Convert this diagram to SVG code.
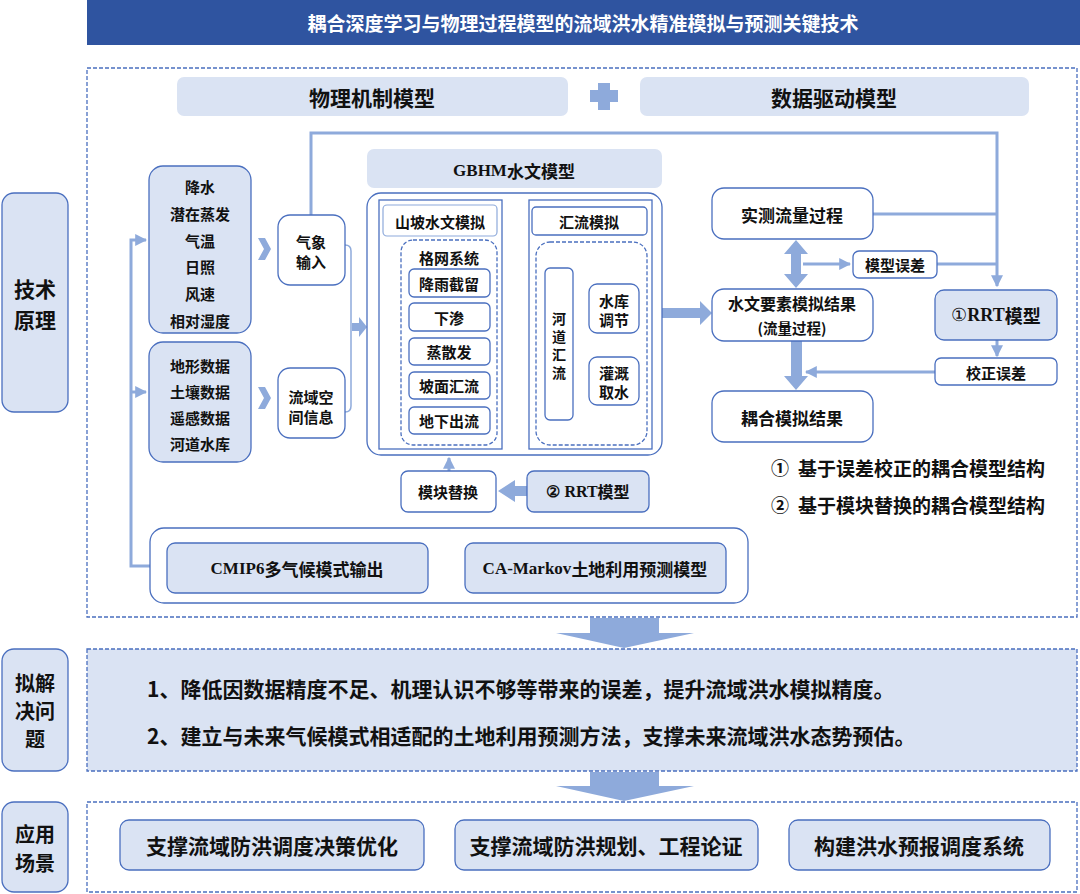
<svg xmlns="http://www.w3.org/2000/svg" width="1080" height="894" viewBox="0 0 1080 894">
<defs>
<style>
.lf{fill:#DAE3F3;stroke:#4A6FBF;stroke-width:1.3}
.wf{fill:#FFFFFF;stroke:#4A6FBF;stroke-width:1.3}
.hd{fill:#DAE3F3;stroke:none}
.dash{fill:none;stroke:#4A6FBF;stroke-width:1.3;stroke-dasharray:4 2}
.ln{fill:none;stroke:#8EAADB;stroke-width:3}
.dl{fill:none;stroke:#3A5DA8;stroke-width:1.2}
.ba{fill:#8EAADB;stroke:none}
.t{font-family:"Noto Sans CJK SC","Noto Sans",sans-serif;font-weight:bold;fill:#111;text-anchor:middle;dominant-baseline:central}
.s{font-family:"Liberation Serif",serif;font-weight:bold}
</style>
<marker id="ah" viewBox="0 0 10 10" refX="9" refY="5" markerWidth="4" markerHeight="4" orient="auto"><path d="M0,0 L10,5 L0,10 z" fill="#8EAADB"/></marker>
<marker id="ahd" viewBox="0 0 10 10" refX="9" refY="5" markerWidth="7" markerHeight="7" markerUnits="userSpaceOnUse" orient="auto"><path d="M0,1 L10,5 L0,9 z" fill="#3A5DA8"/></marker>
</defs>
<rect width="1080" height="894" fill="#FFFFFF"/>

<g id="title">
<rect x="87" y="0" width="993" height="45" fill="#2F54A0"/>
<text class="t" x="583" y="22" style="fill:#FFFFFF;font-size:19px">耦合深度学习与物理过程模型的流域洪水精准模拟与预测关键技术</text>
</g>

<g id="main-frame">
<rect class="dash" x="87" y="68" width="990" height="549"/>
</g>

<g id="header-physical">
<rect class="hd" x="177" y="77" width="391" height="39" rx="7"/>
<text class="t" x="372" y="97" style="font-size:21px">物理机制模型</text>
</g>
<g id="plus">
<rect x="598" y="83" width="12" height="27" fill="#8EAADB"/>
<rect x="590" y="90" width="28" height="12" fill="#8EAADB"/>
</g>
<g id="header-data">
<rect class="hd" x="640" y="77" width="389" height="39" rx="7"/>
<text class="t" x="834" y="97" style="font-size:21px">数据驱动模型</text>
</g>

<g id="label-tech">
<rect class="lf" x="2" y="193" width="66" height="219" rx="12"/>
<text class="t" x="35" y="288" style="font-size:21px">技术</text>
<text class="t" x="35" y="319" style="font-size:21px">原理</text>
</g>
<g id="label-problem">
<rect class="lf" x="2" y="649" width="66" height="122" rx="12"/>
<text class="t" style="font-size:20px"><tspan x="35" y="682">拟解</tspan><tspan x="35" y="710">决问</tspan><tspan x="35" y="738">题</tspan></text>
</g>
<g id="label-app">
<rect class="lf" x="2" y="802" width="66" height="90" rx="12"/>
<text class="t" style="font-size:20px"><tspan x="35" y="833">应用</tspan><tspan x="35" y="862">场景</tspan></text>
</g>

<g id="connectors">
<path class="ln" d="M150,566 H131 V240 H146" marker-end="url(#ah)"/>
<path class="ln" d="M131,392 H146" marker-end="url(#ah)"/>
<polygon class="ba" points="258,238 265,238 271,249 265,260 258,260 264,249"/>
<polygon class="ba" points="258,387 265,387 271,398 265,409 258,409 264,398"/>
<path d="M345,245 Q351,245 351,251 V406 Q351,412 345,412" fill="none" stroke="#8EAADB" stroke-width="1.5"/>
<polygon class="ba" points="352,323 359,323 359,317 367,327 359,337 359,331 352,331"/>
<path class="ln" d="M311,215 V133 H997 V286" marker-end="url(#ah)"/>
<path class="ln" d="M873,214 H997"/>
<path class="ln" d="M937,264 H997"/>
<path class="ln" d="M803,264 H850" marker-end="url(#ah)"/>
<path class="ln" d="M997,340 V356" marker-end="url(#ah)"/>
<path class="ln" d="M935,372 H806" marker-end="url(#ah)"/>
<polygon class="ba" points="796,240 808,254 801,254 801,274 808,274 796,288 784,274 791,274 791,254 784,254"/>
<polygon class="ba" points="791,341 802,341 802,376 808,376 796,390 784,376 791,376"/>
<polygon class="ba" points="662,308 700,308 700,301 712,313 700,325 700,318 662,318"/>
<polygon class="ba" points="503,337 511,331 511,334 519,334 519,331 527,337 519,343 519,340 511,340 511,343"/>
<polygon class="ba" points="527,486 515,486 515,480 498,491 515,502 515,496 527,496"/>
<path class="ln" d="M449,471 V458" marker-end="url(#ah)"/>
<path class="dl" d="M392,236 V420"/>
<path class="dl" d="M392,283 H408" marker-end="url(#ahd)"/>
<path class="dl" d="M392,317 H408" marker-end="url(#ahd)"/>
<path class="dl" d="M392,351 H408" marker-end="url(#ahd)"/>
<path class="dl" d="M392,385 H408" marker-end="url(#ahd)"/>
<path class="dl" d="M392,420 H408" marker-end="url(#ahd)"/>
<path d="M559,235 V268" fill="none" stroke="#4A6FBF" stroke-width="1.2"/>
<polygon class="ba" points="590,618 659,618 659,633 694,633 624,648 556,633 590,633"/>
<polygon class="ba" points="590,772 659,772 659,786 694,786 624,801 556,786 590,786"/>
</g>

<g id="data-met">
<rect class="lf" x="149" y="166" width="102" height="167" rx="14"/>
<text class="t" x="200" y="186" style="font-size:15px">降水</text>
<text class="t" x="200" y="213" style="font-size:15px">潜在蒸发</text>
<text class="t" x="200" y="240" style="font-size:15px">气温</text>
<text class="t" x="200" y="266" style="font-size:15px">日照</text>
<text class="t" x="200" y="293" style="font-size:15px">风速</text>
<text class="t" x="200" y="320" style="font-size:15px">相对湿度</text>
</g>
<g id="data-geo">
<rect class="lf" x="149" y="342" width="102" height="120" rx="14"/>
<text class="t" x="200" y="365" style="font-size:15px">地形数据</text>
<text class="t" x="200" y="391" style="font-size:15px">土壤数据</text>
<text class="t" x="200" y="417" style="font-size:15px">遥感数据</text>
<text class="t" x="200" y="443" style="font-size:15px">河道水库</text>
</g>
<g id="met-input">
<rect class="wf" x="278" y="215" width="67" height="70" rx="12"/>
<text class="t" style="font-size:15px"><tspan x="311" y="241">气象</tspan><tspan x="311" y="261">输入</tspan></text>
</g>
<g id="spatial-info">
<rect class="wf" x="278" y="368" width="67" height="70" rx="12"/>
<text class="t" style="font-size:15px"><tspan x="311" y="396">流域空</tspan><tspan x="311" y="416">间信息</tspan></text>
</g>

<g id="gbhm">
<rect class="hd" x="367" y="149" width="295" height="39" rx="7"/>
<text class="t" x="514" y="170" style="font-size:17px"><tspan class="s">GBHM</tspan>水文模型</text>
<rect class="wf" x="367" y="193" width="295" height="262" rx="14"/>
</g>
<g id="slope">
<rect x="379" y="200" width="123" height="249" fill="none" stroke="#4A6FBF" stroke-width="1.3"/>
<rect x="383" y="205" width="114" height="31" rx="4" fill="#FFFFFF" stroke="#8EAADB" stroke-width="1.2"/>
<text class="t" x="440" y="221" style="font-size:15px">山坡水文模拟</text>
<rect class="dash" x="401" y="240" width="96" height="205" rx="12"/>
<text class="t" x="449" y="257" style="font-size:15px">格网系统</text>
</g>
<g id="interception"><rect class="wf" x="409" y="269" width="81" height="28" rx="5"/><text class="t" x="449" y="283" style="font-size:15px">降雨截留</text></g>
<g id="infiltration"><rect class="wf" x="409" y="303" width="81" height="28" rx="5"/><text class="t" x="449" y="317" style="font-size:15px">下渗</text></g>
<g id="evap"><rect class="wf" x="409" y="338" width="81" height="27" rx="5"/><text class="t" x="449" y="351" style="font-size:15px">蒸散发</text></g>
<g id="overland"><rect class="wf" x="409" y="372" width="81" height="27" rx="5"/><text class="t" x="449" y="385" style="font-size:15px">坡面汇流</text></g>
<g id="subsurface"><rect class="wf" x="409" y="407" width="81" height="27" rx="5"/><text class="t" x="449" y="420" style="font-size:15px">地下出流</text></g>

<g id="routing">
<rect x="529" y="200" width="123" height="249" fill="none" stroke="#4A6FBF" stroke-width="1.3"/>
<rect class="wf" x="532" y="207" width="115" height="28" rx="4"/>
<text class="t" x="589" y="221" style="font-size:15px">汇流模拟</text>
<rect class="dash" x="536" y="242" width="111" height="203" rx="14"/>
</g>
<g id="channel">
<rect class="wf" x="545" y="268" width="28" height="152" rx="5"/>
<text class="t" style="font-size:14px"><tspan x="559" y="318">河</tspan><tspan x="559" y="336">道</tspan><tspan x="559" y="354">汇</tspan><tspan x="559" y="372">流</tspan></text>
</g>
<g id="reservoir">
<rect class="wf" x="589" y="284" width="50" height="49" rx="8"/>
<text class="t" style="font-size:15px"><tspan x="614" y="300">水库</tspan><tspan x="614" y="319">调节</tspan></text>
</g>
<g id="irrigation">
<rect class="wf" x="589" y="357" width="50" height="48" rx="8"/>
<text class="t" style="font-size:15px"><tspan x="614" y="372">灌溉</tspan><tspan x="614" y="391">取水</tspan></text>
</g>

<g id="module-replace">
<rect class="wf" x="401" y="471" width="95" height="41" rx="7"/>
<text class="t" x="448" y="491" style="font-size:15px">模块替换</text>
</g>
<g id="rrt2">
<rect class="lf" x="527" y="471" width="122" height="41" rx="7"/>
<text class="t" x="588" y="491" style="font-size:16px"><tspan class="s">② RRT</tspan>模型</text>
</g>

<g id="future">
<rect class="wf" x="150" y="528" width="598" height="75" rx="14"/>
</g>
<g id="cmip6">
<rect class="lf" x="167" y="543" width="261" height="50" rx="8"/>
<text class="t" x="297" y="568" style="font-size:17px"><tspan class="s">CMIP6</tspan>多气候模式输出</text>
</g>
<g id="camarkov">
<rect class="lf" x="465" y="543" width="261" height="50" rx="8"/>
<text class="t" x="595" y="568" style="font-size:17px"><tspan class="s">CA-Markov</tspan>土地利用预测模型</text>
</g>

<g id="observed">
<rect class="wf" x="712" y="188" width="161" height="51" rx="12"/>
<text class="t" x="792" y="214" style="font-size:17px">实测流量过程</text>
</g>
<g id="model-error">
<rect class="wf" x="853" y="251" width="84" height="27" rx="6"/>
<text class="t" x="895" y="264" style="font-size:15px">模型误差</text>
</g>
<g id="sim-result">
<rect class="wf" x="712" y="289" width="161" height="52" rx="12"/>
<text class="t" x="792" y="303" style="font-size:16px">水文要素模拟结果</text>
<text class="t" x="792" y="327" style="font-size:14.5px">(流量过程)</text>
</g>
<g id="rrt1">
<rect class="lf" x="935" y="290" width="122" height="50" rx="9"/>
<text class="t" x="996" y="315" style="font-size:18px"><tspan class="s" style="font-weight:normal">①</tspan><tspan class="s">RRT</tspan>模型</text>
</g>
<g id="corr-error">
<rect class="wf" x="935" y="358" width="122" height="27" rx="6"/>
<text class="t" x="996" y="372" style="font-size:15px">校正误差</text>
</g>
<g id="coupled">
<rect class="wf" x="712" y="391" width="161" height="51" rx="12"/>
<text class="t" x="792" y="417" style="font-size:17px">耦合模拟结果</text>
</g>

<g id="legend">
<text class="t" x="780" y="467" style="font-size:18px">①</text>
<text class="t" x="798" y="467" style="font-size:19px;text-anchor:start">基于误差校正的耦合模型结构</text>
<text class="t" x="780" y="504" style="font-size:18px">②</text>
<text class="t" x="798" y="504" style="font-size:19px;text-anchor:start">基于模块替换的耦合模型结构</text>
</g>

<g id="problems">
<rect x="87" y="649" width="990" height="122" fill="#DAE3F3" stroke="#4A6FBF" stroke-width="1.3" stroke-dasharray="4 2"/>
<text class="t" x="147" y="688" style="font-size:21px;text-anchor:start">1、降低因数据精度不足、机理认识不够等带来的误差，提升流域洪水模拟精度。</text>
<text class="t" x="147" y="735" style="font-size:21px;text-anchor:start">2、建立与未来气候模式相适配的土地利用预测方法，支撑未来流域洪水态势预估。</text>
</g>

<g id="applications">
<rect class="dash" x="87" y="802" width="990" height="90"/>
</g>
<g id="app1">
<rect class="lf" x="120" y="820" width="304" height="50" rx="9"/>
<text class="t" x="272" y="845" style="font-size:21px">支撑流域防洪调度决策优化</text>
</g>
<g id="app2">
<rect class="lf" x="455" y="820" width="303" height="50" rx="9"/>
<text class="t" x="606" y="845" style="font-size:21px">支撑流域防洪规划、工程论证</text>
</g>
<g id="app3">
<rect class="lf" x="789" y="820" width="261" height="50" rx="9"/>
<text class="t" x="919" y="845" style="font-size:21px">构建洪水预报调度系统</text>
</g>
</svg>
